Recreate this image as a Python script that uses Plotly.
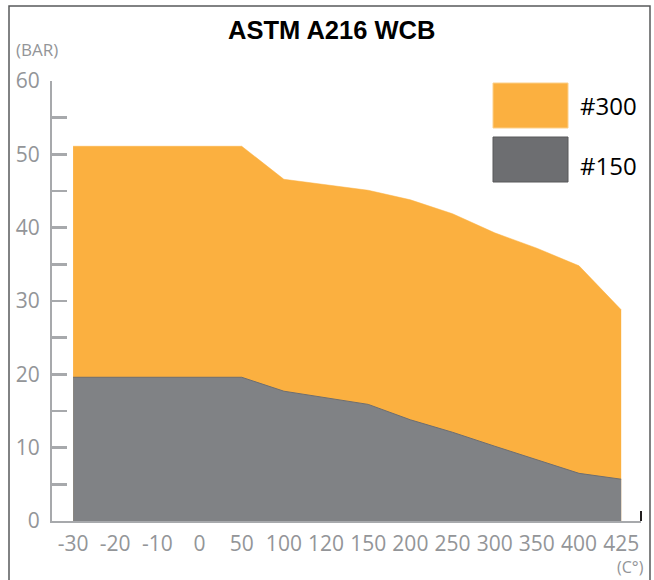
import plotly.graph_objects as go

categories = ["-30", "-20", "-10", "0", "50", "100", "120", "150", "200", "250", "300", "350", "400", "425"]
class300 = [51.1, 51.1, 51.1, 51.1, 51.1, 46.6, 45.8, 45.1, 43.8, 41.9, 39.3, 37.2, 34.8, 28.8]
class150 = [19.6, 19.6, 19.6, 19.6, 19.6, 17.7, 16.8, 15.9, 13.8, 12.1, 10.2, 8.4, 6.5, 5.7]
y_ticks = [0, 10, 20, 30, 40, 50, 60]

ORANGE = "#FBB040"
GRAY = "#808285"
AXIS = "#A7A9AC"
TXT = "#939598"
FONT = "Open Sans"

idx = list(range(len(categories)))

fig = go.Figure()
fig.add_trace(go.Scatter(x=idx, y=class300, mode="lines", fill="tozeroy",
                         line=dict(color=ORANGE, width=0.5), fillcolor=ORANGE,
                         name="#300", showlegend=False, hoverinfo="skip"))
fig.add_trace(go.Scatter(x=idx, y=class150, mode="lines", fill="tozeroy",
                         line=dict(color="#6D6E71", width=1), fillcolor=GRAY,
                         name="#150", showlegend=False, hoverinfo="skip"))

L, R, T, B = 52, 13, 81, 59
W, H = 654, 580
pw, ph = W - L - R, H - T - B

def px(x):
    return (x - L) / pw

def py(y):
    return (H - B - y) / ph

fig.update_layout(
    width=W, height=H,
    margin=dict(l=L, r=R, t=T, b=B),
    paper_bgcolor="white", plot_bgcolor="white",
    showlegend=False,
    xaxis=dict(range=[-0.5, 13.47], tickvals=idx, ticktext=categories,
               showgrid=False, zeroline=False, showline=True, linecolor=AXIS, linewidth=2,
               ticks="", tickfont=dict(family=FONT, size=21, color=TXT),
               ticklabelstandoff=3, fixedrange=True),
    yaxis=dict(range=[0, 60], tickvals=y_ticks, showgrid=False, zeroline=False,
               showline=True, linecolor=AXIS, linewidth=2,
               ticks="inside", ticklen=15, tickwidth=2.5, tickcolor=AXIS,
               minor=dict(dtick=5, tick0=0, ticks="inside", ticklen=15, tickwidth=2.5, tickcolor=AXIS),
               tickfont=dict(family=FONT, size=21, color=TXT),
               ticklabelstandoff=6, fixedrange=True),
)

shapes = [
    dict(type="rect", xref="paper", yref="paper", x0=px(9), x1=px(650), y0=py(590), y1=py(6),
         line=dict(color="#58595B", width=1.5), fillcolor="rgba(0,0,0,0)", layer="below"),
    dict(type="rect", xref="paper", yref="paper", x0=px(493), x1=px(568), y0=py(128), y1=py(83),
         line=dict(color="#FCD08A", width=1), fillcolor=ORANGE),
    dict(type="rect", xref="paper", yref="paper", x0=px(493), x1=px(568), y0=py(182), y1=py(137),
         line=dict(color="#58595B", width=1), fillcolor="#6D6E71"),
    dict(type="line", xref="paper", yref="paper", x0=px(641), x1=px(641), y0=py(521), y1=py(511),
         line=dict(color="#231F20", width=2)),
]
fig.update_layout(shapes=shapes)

annotations = [
    dict(text="<b>ASTM A216 WCB</b>", x=px(331), y=py(30), xref="paper", yref="paper",
         showarrow=False, xanchor="center", yanchor="middle",
         font=dict(family="Liberation Sans", size=25.5, color="#000000")),
    dict(text="(BAR)", x=px(37), y=py(50), xref="paper", yref="paper",
         showarrow=False, xanchor="center", yanchor="middle",
         font=dict(family=FONT, size=17, color=TXT)),
    dict(text="(C°)", x=px(646), y=py(567), xref="paper", yref="paper",
         showarrow=False, xanchor="right", yanchor="middle",
         font=dict(family=FONT, size=16, color=TXT)),
    dict(text="#300", x=px(578), y=py(105), xref="paper", yref="paper",
         showarrow=False, xanchor="left", yanchor="middle",
         font=dict(family=FONT, size=24, color="#000000")),
    dict(text="#150", x=px(578), y=py(165), xref="paper", yref="paper",
         showarrow=False, xanchor="left", yanchor="middle",
         font=dict(family=FONT, size=24, color="#000000")),
]
fig.update_layout(annotations=annotations)

fig.write_html("out.html", config={"displayModeBar": False, "staticPlot": True},
               post_script="document.body.style.margin='0px';document.body.style.overflow='hidden';")
